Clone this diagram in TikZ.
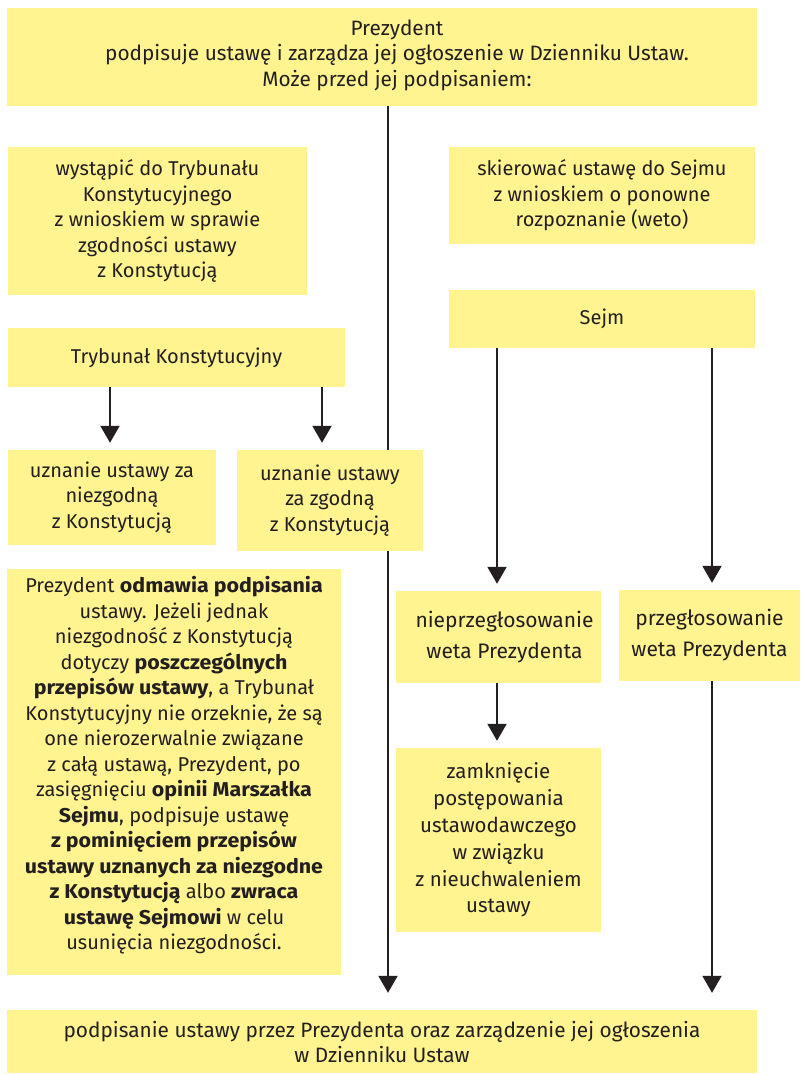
\documentclass[tikz,border=0pt]{standalone}
\usepackage{fontspec}
\setmainfont{Fira Sans}[BoldFeatures={FakeStretch=1.07}]
\usetikzlibrary{arrows.meta,backgrounds}
\definecolor{boxyellow}{RGB}{255,244,143}
\definecolor{ink}{RGB}{35,31,32}
\begin{document}
\begin{tikzpicture}[x=1pt,y=-1pt,
  box/.style={fill=boxyellow, inner sep=0pt, align=center, text=ink,
    font=\fontsize{20}{25.5}\selectfont},
  plaintext/.style={inner sep=0pt, align=center, text=ink,
    font=\fontsize{20.8}{25.5}\selectfont},
  conn/.style={draw=ink, line width=2pt, -{Triangle[width=19pt,length=17pt]}}]
\useasboundingbox (0,0) rectangle (800,1075);
% boxes
\node[box, minimum width=750pt, minimum height=98pt] (top) at (382,57) {};
\node[plaintext] (toptext) at (397,55) {Prezydent\\podpisuje ustawę i zarządza jej ogłoszenie w Dzienniku Ustaw.\\Może przed jej podpisaniem:};
\node[box, minimum width=299pt, minimum height=148pt] (tryb) at (157.5,221)
  {wystąpić do Trybunału\\Konstytucyjnego\\z wnioskiem w sprawie\\zgodności ustawy\\z Konstytucją};
\node[box, minimum width=306pt, minimum height=97pt] (veto) at (602,195.5)
  {skierować ustawę do Sejmu\\z wnioskiem o ponowne\\rozpoznanie (weto)};
\node[box, minimum width=337pt, minimum height=59pt] (tk) at (176.5,357.5) {Trybunał Konstytucyjny};
\node[box, minimum width=306pt, minimum height=58pt] (sejm) at (602,319) {Sejm};
\node[box, minimum width=208pt, minimum height=95pt] (niezg) at (112,497.5)
  {uznanie ustawy za\\niezgodną\\z Konstytucją};
\node[box, minimum width=186pt, minimum height=101pt] (zg) at (330,500.5)
  {uznanie ustawy\\za zgodną\\z Konstytucją};
\node[box, minimum width=334pt, minimum height=406pt] (odm) at (174,772)
  {Prezydent \textbf{odmawia podpisania}\\ustawy. Jeżeli jednak\\niezgodność z Konstytucją\\dotyczy \textbf{poszczególnych}\\\textbf{przepisów ustawy}, a Trybunał\\Konstytucyjny nie orzeknie, że są\\one nierozerwalnie związane\\z całą ustawą, Prezydent, po\\zasięgnięciu \textbf{opinii Marszałka}\\\textbf{Sejmu}, podpisuje ustawę\\\textbf{z pominięciem przepisów}\\\textbf{ustawy uznanych za niezgodne}\\\textbf{z Konstytucją} albo \textbf{zwraca}\\\textbf{ustawę Sejmowi} w celu\\usunięcia niezgodności.\\[-8pt]~};
\node[box, minimum width=205pt, minimum height=92pt, font=\fontsize{21}{31}\selectfont] (nieprz) at (498.5,637)
  {\hspace*{12pt}nieprzegłosowanie\\\hspace*{12pt}weta Prezydenta};
\node[box, minimum width=181pt, minimum height=91pt, font=\fontsize{21}{31}\selectfont] (przeg) at (709.5,635.5)
  {przegłosowanie\\weta Prezydenta};
\node[box, minimum width=205pt, minimum height=184pt, font=\fontsize{20.5}{26.8}\selectfont] (zamk) at (498.5,840)
  {zamknięcie\\postępowania\\ustawodawczego\\w związku\\z nieuchwaleniem\\ustawy};
\node[box, minimum width=750pt, minimum height=63pt] (bottom) at (382,1041.5) {};
\node[plaintext] (bottomtext) at (382,1042) {podpisanie ustawy przez Prezydenta oraz zarządzenie jej ogłoszenia\\w Dzienniku Ustaw};
% connector columns
\coordinate (cmain) at (388,0);
\coordinate (ctka) at (110,0);
\coordinate (ctkb) at (322,0);
\coordinate (csa) at (497,0);
\coordinate (csb) at (712,0);
\begin{scope}[on background layer]
\draw[conn, shorten >=17pt] (top.south -| cmain) -- (bottom.north -| cmain);
\end{scope}
\draw[conn, shorten >=7pt] (tk.south -| ctka) -- (niezg.north -| ctka);
\draw[conn, shorten >=7pt] (tk.south -| ctkb) -- (zg.north -| ctkb);
\draw[conn, shorten >=7pt] (sejm.south -| csa) -- (nieprz.north -| csa);
\draw[conn, shorten >=7pt] (sejm.south -| csb) -- (przeg.north -| csb);
\draw[conn, shorten >=7pt] (nieprz.south -| csa) -- (zamk.north -| csa);
\draw[conn, shorten >=17pt] (przeg.south -| csb) -- (bottom.north -| csb);
\end{tikzpicture}
\end{document}
